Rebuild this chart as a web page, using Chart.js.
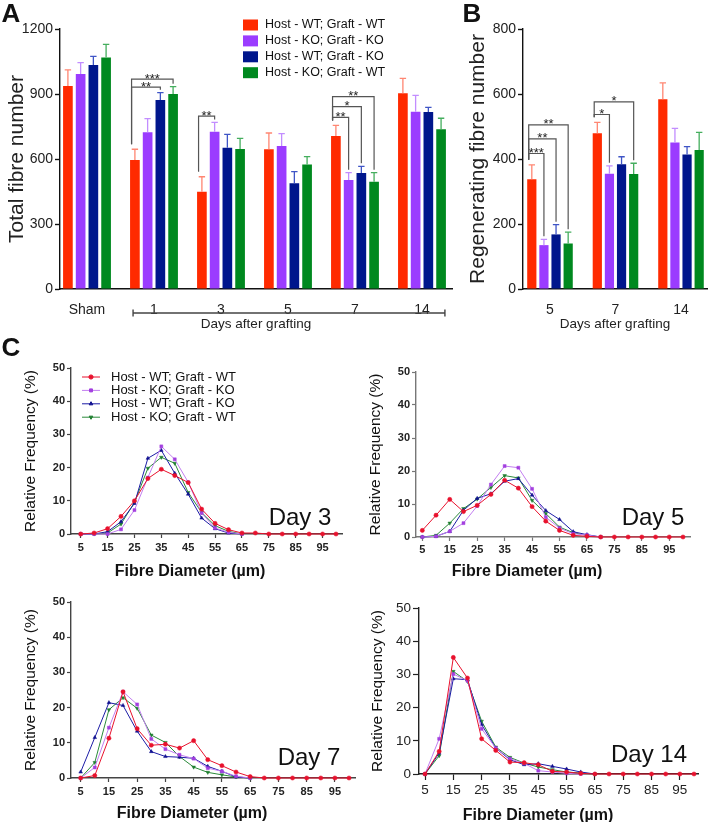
<!DOCTYPE html>
<html><head><meta charset="utf-8">
<script src="https://cdn.jsdelivr.net/npm/chart.js@4.4.1/dist/chart.umd.min.js"></script>
<style>
html,body{margin:0;padding:0;background:#fff;}
#wrap{position:relative;width:709px;height:822px;overflow:hidden;background:#fff;font-family:'Liberation Sans',Arial,Helvetica,sans-serif;}
canvas{position:absolute;}
.lbl{position:absolute;transform:translate(-50%,-50%);white-space:nowrap;color:#111;pointer-events:none;}
</style></head><body>
<div id="wrap">
<canvas id="cA" width="460" height="335" style="left:0;top:0"></canvas>
<canvas id="cB" width="247" height="335" style="left:462px;top:0"></canvas>
<canvas id="c3" width="360" height="225" style="left:0;top:355px"></canvas>
<canvas id="c5" width="349" height="225" style="left:360px;top:355px"></canvas>
<canvas id="c7" width="360" height="232" style="left:0;top:590px"></canvas>
<canvas id="c14" width="349" height="232" style="left:360px;top:590px"></canvas>
<div class="lbl" style="left:11px;top:13px;font-weight:bold;font-size:26px">A</div>
<div class="lbl" style="left:472px;top:13px;font-weight:bold;font-size:26px">B</div>
<div class="lbl" style="left:11px;top:347px;font-weight:bold;font-size:26px">C</div>
<div class="lbl" style="left:300px;top:517px;font-size:24px">Day 3</div>
<div class="lbl" style="left:653px;top:517px;font-size:24px">Day 5</div>
<div class="lbl" style="left:309px;top:757px;font-size:24px">Day 7</div>
<div class="lbl" style="left:649px;top:754px;font-size:24px">Day 14</div>
<div class="lbl" style="left:190px;top:571px;font-size:16px;font-weight:bold">Fibre Diameter (µm)</div>
<div class="lbl" style="left:527px;top:571px;font-size:16px;font-weight:bold">Fibre Diameter (µm)</div>
<div class="lbl" style="left:192px;top:813px;font-size:16px;font-weight:bold">Fibre Diameter (µm)</div>
<div class="lbl" style="left:538px;top:815px;font-size:16px;font-weight:bold">Fibre Diameter (µm)</div>
</div>
<script>
// ---------------- DATA ----------------
const groupNames = ['Host - WT; Graft - WT', 'Host - KO; Graft - KO', 'Host - WT; Graft - KO', 'Host - KO; Graft - WT'];

// Panel A: total fibre number
const daysA = ['Sham', '1', '3', '5', '7', '14'];
const totalWTWT = [937, 595, 449, 645, 706, 903];
const totalKOKO = [992, 723, 726, 660, 503, 818];
const totalWTKO = [1034, 872, 652, 488, 535, 817];
const totalKOWT = [1069, 900, 646, 575, 495, 737];
const totalErrWTWT = [74, 50, 69, 75, 49, 69];
const totalErrKOKO = [53, 63, 43, 57, 34, 76];
const totalErrWTKO = [40, 34, 62, 54, 31, 21];
const totalErrKOWT = [60, 34, 49, 36, 42, 51];
const sigA = [
  {g: 1, to: 2, level: 932, text: '**'},
  {g: 1, to: 3, level: 969, text: '***'},
  {g: 2, to: 1, level: 798, text: '**'},
  {g: 4, to: 1, level: 792, text: '**'},
  {g: 4, to: 2, level: 842, text: '*'},
  {g: 4, to: 3, level: 888, text: '**'}
];

// Panel B: regenerating fibre number
const daysB = ['5', '7', '14'];
const regenWTWT = [338, 479, 584];
const regenKOKO = [135, 355, 451];
const regenWTKO = [168, 384, 414];
const regenKOWT = [140, 354, 428];
const regenErrWTWT = [44, 34, 50];
const regenErrKOKO = [18, 24, 43];
const regenErrWTKO = [30, 23, 24];
const regenErrKOWT = [35, 33, 54];
const sigB = [
  {g: 0, to: 1, level: 417, text: '***'},
  {g: 0, to: 2, level: 462, text: '**'},
  {g: 0, to: 3, level: 505, text: '**'},
  {g: 1, to: 1, level: 537, text: '*'},
  {g: 1, to: 3, level: 576, text: '*'}
];

// Panel C: fibre diameter distributions (%)
const diameters = [5,10,15,20,25,30,35,40,45,50,55,60,65,70,75,80,85,90,95,100];
const xTickVals = [5,15,25,35,45,55,65,75,85,95];
const yTickValsC = [0,10,20,30,40,50];

const day3WTWT = [0,0.3,1.6,5.3,10,16.7,19.5,17.6,15.5,7.5,3.2,1.3,0.3,0.3,0,0,0,0,0,0];
const day3KOKO = [0,0,0,1.4,7.2,17,26.4,22.5,15.6,6.3,1.8,0.5,0];
const day3WTKO = [0,0,0.7,3.7,9.2,22.8,25.2,18.3,12,4.8,1.6,0.3,0];
const day3KOWT = [0,0,0.3,3,9.5,19.8,23.1,21.3,12.5,6.5,2.5,0.8,0];

const day5WTWT = [2,6.6,11.4,7.7,9.6,12.9,17.2,14.8,9.2,4.8,2,0.5,0.2,0,0,0,0,0,0,0];
const day5KOKO = [0,0.2,1.7,4.2,9.4,15.9,21.5,21,14.6,6,2.7,1,0.6,0];
const day5WTKO = [0,0.2,1.7,8.1,11.7,13.1,16.9,17.7,12.7,8,5.3,1.6,0.7,0];
const day5KOWT = [0,0.5,4.2,8.6,11.5,15,18.6,17.9,11.1,7.1,3,1.3,0.5,0];

const day7WTWT = [0,0.7,11.3,24.5,14,9.3,9.6,8.5,10.6,5.2,3.5,1.7,0.4,0,0,0,0,0,0,0];
const day7KOKO = [0,3,14.3,24.5,20.9,11.1,8.2,6.6,5.5,2.8,1.9,0.5,0];
const day7WTKO = [1.7,11.5,21.4,20.6,13.3,7.5,6.1,5.9,5.6,3.3,1.9,0.3,0];
const day7KOWT = [0,4.4,19.4,22.8,19.8,12.2,10.1,6.1,3.1,1.6,0.9,0.3,0];

const day14WTWT = [0,6.8,35.1,28.9,10.6,7.1,3.6,3.4,2.8,0.8,0.6,0.2,0,0,0,0,0,0,0,0];
const day14KOKO = [0,10.6,30.1,28.1,13.6,7.8,4.6,3.2,1,0.6,0.2,0];
const day14WTKO = [0,6.3,28.7,28.4,14.9,7.8,4.3,2.8,3.1,2.3,1.5,0.6,0];
const day14KOWT = [0,5.5,30.9,27.9,15.9,8.1,5,3.3,2.1,1.3,0.6,0.3,0];

// ---------------- STYLE ----------------
const FONT = "'Liberation Sans', Arial, Helvetica, sans-serif";
Chart.defaults.font.family = FONT;
Chart.defaults.color = '#222';
const barColors = ['#ff2a00', '#9b3cff', '#00168c', '#00891f'];
const errColors = ['#ff8672', '#c28dff', '#3f55c6', '#45ae5e'];
const lineColors = ['#e8112d', '#c27ef0', '#1c1ca6', '#2a8a3a'];
const markerColors = ['#e8112d', '#a33fdf', '#10108f', '#1f7f30'];
const markerStyles = ['circle', 'rect', 'triangle', 'triangle'];
const markerRot = [0, 0, 0, 180];

// ---------------- PLUGINS ----------------
function errorBars(vals, errs) {
  return { id: 'errbars', afterDatasetsDraw(chart) {
    const ctx = chart.ctx, ys = chart.scales.y;
    vals.forEach((arr, d) => {
      const meta = chart.getDatasetMeta(d);
      ctx.save(); ctx.strokeStyle = errColors[d]; ctx.lineWidth = 1.3;
      meta.data.forEach((el, i) => {
        const yt = ys.getPixelForValue(arr[i] + errs[d][i]);
        ctx.beginPath();
        ctx.moveTo(el.x, el.y); ctx.lineTo(el.x, yt);
        ctx.moveTo(el.x - 3.2, yt); ctx.lineTo(el.x + 3.2, yt);
        ctx.stroke();
      });
      ctx.restore();
    });
  }};
}
function brackets(items, vals, errs) {
  return { id: 'brackets', afterDatasetsDraw(chart) {
    const ctx = chart.ctx, ys = chart.scales.y;
    ctx.save(); ctx.strokeStyle = '#555'; ctx.lineWidth = 1.2; ctx.fillStyle = '#222';
    ctx.font = '13px ' + FONT; ctx.textAlign = 'center'; ctx.textBaseline = 'alphabetic';
    items.forEach(b => {
      const ref = chart.getDatasetMeta(0).data[b.g];
      const tgt = chart.getDatasetMeta(b.to).data[b.g];
      const lx = ref.x - ref.width / 2 + 1.5, rx = tgt.x;
      const ly = ys.getPixelForValue(b.level);
      const lb = ys.getPixelForValue(vals[0][b.g] + errs[0][b.g]) - 5;
      const rb = ys.getPixelForValue(vals[b.to][b.g] + errs[b.to][b.g]) - 3;
      ctx.beginPath(); ctx.moveTo(lx, lb); ctx.lineTo(lx, ly); ctx.lineTo(rx, ly); ctx.lineTo(rx, rb); ctx.stroke();
      ctx.fillText(b.text, (lx + rx) / 2, ly + 3.5);
    });
    ctx.restore();
  }};
}
const dayRange = { id: 'dayRange', afterDraw(chart) {
  const ctx = chart.ctx;
  const a = chart.getDatasetMeta(0).data[1], b = chart.getDatasetMeta(3).data[5];
  const x1 = a.x - a.width / 2 + 3, x2 = b.x + b.width / 2 - 1, y = chart.chartArea.bottom + 24;
  ctx.save(); ctx.strokeStyle = '#444'; ctx.lineWidth = 1.4;
  ctx.beginPath(); ctx.moveTo(x1, y); ctx.lineTo(x2, y);
  ctx.moveTo(x1, y - 3.5); ctx.lineTo(x1, y + 3.5); ctx.moveTo(x2, y - 3.5); ctx.lineTo(x2, y + 3.5);
  ctx.stroke(); ctx.restore();
}};
const squareLegend = { id: 'sqLegend', afterDraw(chart) {
  const ctx = chart.ctx;
  ctx.save(); ctx.font = '12.5px ' + FONT; ctx.textBaseline = 'middle'; ctx.textAlign = 'left';
  groupNames.forEach((n, d) => {
    const y = 25 + d * 15.9;
    ctx.fillStyle = barColors[d]; ctx.fillRect(243, y - 5.5, 15, 11);
    ctx.fillStyle = '#111'; ctx.fillText(n, 265, y);
  });
  ctx.restore();
}};
const lineLegend = { id: 'lnLegend', afterDraw(chart) {
  const ctx = chart.ctx;
  ctx.save(); ctx.font = '13px ' + FONT; ctx.textBaseline = 'middle'; ctx.textAlign = 'left';
  groupNames.forEach((n, d) => {
    const y = 22 + d * 13.4;
    ctx.strokeStyle = lineColors[d]; ctx.lineWidth = 1;
    ctx.beginPath(); ctx.moveTo(82, y); ctx.lineTo(100, y); ctx.stroke();
    ctx.fillStyle = markerColors[d]; ctx.strokeStyle = markerColors[d];
    Chart.helpers.drawPoint(ctx, {pointStyle: markerStyles[d], rotation: markerRot[d], radius: 2.1, borderWidth: 0.5}, 91, y);
    ctx.fillStyle = '#111'; ctx.fillText(n, 111, y);
  });
  ctx.restore();
}};

// ---------------- BUILDERS ----------------
function barChart(id, cats, vals, errs, sig, o, extra) {
  return new Chart(document.getElementById(id), {
    type: 'bar',
    data: { datasets: groupNames.map((name, d) => ({
      label: name,
      data: cats.map((c, i) => ({x: i, y: vals[d][i]})),
      backgroundColor: barColors[d], borderWidth: 0,
      categoryPercentage: o.catPct, barPercentage: o.barPct
    }))},
    options: {
      responsive: false, animation: false, events: [],
      layout: {padding: {top: 29, right: o.padRight, left: 0, bottom: 0}},
      plugins: {legend: {display: false}, tooltip: {enabled: false}},
      scales: {
        x: {type: 'linear', min: o.xmin, max: o.xmax, offset: false,
          afterBuildTicks: s => { s.ticks = cats.map((c, i) => ({value: i})); },
          afterFit: s => { s.height = 46; },
          grid: {display: false},
          border: {display: true, color: '#111', width: 1.4},
          ticks: {callback: v => cats[v], font: {size: 14}, color: '#222', padding: 5, autoSkip: false, maxRotation: 0},
          title: {display: true, text: 'Days after grafting', font: {size: 13.5}, color: '#222', padding: {top: 0, bottom: 2.6}}
        },
        y: {min: 0, max: o.ymax,
          ticks: {stepSize: o.step, font: {size: 14}, color: '#222', padding: 2, callback: v => String(v)},
          afterFit: s => { s.width = o.yw; },
          grid: {display: true, drawOnChartArea: false, drawTicks: true, tickLength: 5, tickColor: '#111', tickWidth: 1.4},
          border: {display: true, color: '#111', width: 1.4},
          title: {display: true, text: o.ytitle, font: {size: 21}, color: '#222', padding: {top: o.ytPad, bottom: 0}}
        }
      }
    },
    plugins: [errorBars(vals, errs), brackets(sig, vals, errs)].concat(extra)
  });
}

function lineChart(id, series, o) {
  return new Chart(document.getElementById(id), {
    type: 'line',
    data: { datasets: series.map((vals, d) => ({
      label: groupNames[d],
      data: vals.map((v, i) => ({x: diameters[i], y: v})),
      borderColor: lineColors[d], backgroundColor: markerColors[d], pointBorderColor: markerColors[d],
      borderWidth: 1, pointStyle: markerStyles[d], pointRotation: markerRot[d],
      pointRadius: 2.1, pointBorderWidth: 0.5, tension: 0, clip: false, fill: false
    }))},
    options: {
      responsive: false, animation: false, events: [],
      layout: {padding: {top: o.padTop, right: o.padRight, left: 0, bottom: 0}},
      plugins: {legend: {display: false}, tooltip: {enabled: false}},
      scales: {
        x: {type: 'linear', min: o.xmin, max: o.xmax,
          afterBuildTicks: s => { s.ticks = xTickVals.map(v => ({value: v})); },
          afterFit: s => { s.height = o.xh; },
          grid: {display: true, drawOnChartArea: false, drawTicks: true, tickLength: o.tl, tickColor: o.axisColor, tickWidth: 1.2},
          border: {display: true, color: o.axisColor, width: 1.4},
          ticks: {font: {size: o.tickSize, weight: o.tickWeight}, color: '#222', padding: o.xpad, autoSkip: false, maxRotation: 0}
        },
        y: {min: 0, max: 50,
          afterBuildTicks: s => { s.ticks = yTickValsC.map(v => ({value: v})); },
          afterFit: s => { s.width = o.yw; },
          grid: {display: true, drawOnChartArea: false, drawTicks: true, tickLength: o.tl, tickColor: o.axisColor, tickWidth: 1.2},
          border: {display: true, color: o.axisColor, width: 1.4},
          ticks: {font: {size: o.tickSize, weight: o.tickWeight}, color: '#222', padding: 2},
          title: {display: true, text: 'Relative Frequency (%)', font: {size: 15.5}, color: '#111', padding: {top: o.ytPad, bottom: 0}}
        }
      }
    },
    plugins: o.legend ? [lineLegend] : []
  });
}

// ---------------- CHARTS ----------------
barChart('cA', daysA,
  [totalWTWT, totalKOKO, totalWTKO, totalKOWT],
  [totalErrWTWT, totalErrKOKO, totalErrWTKO, totalErrKOWT], sigA,
  {xmin: -0.403, xmax: 5.448, ymax: 1200, step: 300, yw: 60, padRight: 8, ytPad: 4.4,
   catPct: 0.76, barPct: 0.76, ytitle: 'Total fibre number'},
  [dayRange, squareLegend]);

barChart('cB', daysB,
  [regenWTWT, regenKOKO, regenWTKO, regenKOWT],
  [regenErrWTWT, regenErrKOKO, regenErrWTKO, regenErrKOWT], sigB,
  {xmin: -0.412, xmax: 2.397, ymax: 800, step: 200, yw: 61, padRight: 2, ytPad: 3.4,
   catPct: 0.74, barPct: 0.76, ytitle: 'Regenerating fibre number'},
  []);

lineChart('c3', [day3WTWT, day3KOKO, day3WTKO, day3KOWT],
  {xmin: 1.39, xmax: 102.23, padTop: 13, padRight: 18, yw: 71, xh: 46, tl: 4, xpad: 3,
   tickSize: 11, tickWeight: 'bold', axisColor: '#444', ytPad: 21.7, legend: true});
lineChart('c5', [day5WTWT, day5KOKO, day5WTKO, day5KOWT],
  {xmin: 2.70, xmax: 102.55, padTop: 17, padRight: 19, yw: 56, xh: 43, tl: 4, xpad: 2,
   tickSize: 11, tickWeight: 'bold', axisColor: '#777', ytPad: 6.7, legend: false});
lineChart('c7', [day7WTWT, day7KOKO, day7WTKO, day7KOWT],
  {xmin: 1.58, xmax: 102.29, padTop: 12, padRight: 3, yw: 71, xh: 44, tl: 4, xpad: 3.5,
   tickSize: 11, tickWeight: 'bold', axisColor: '#444', ytPad: 21.7, legend: false});
lineChart('c14', [day14WTWT, day14KOKO, day14WTKO, day14KOWT],
  {xmin: 2.88, xmax: 101.41, padTop: 18, padRight: 11, yw: 59, xh: 48, tl: 6, xpad: 2.5,
   tickSize: 13.5, tickWeight: 'normal', axisColor: '#222', ytPad: 8.7, legend: false});
</script>
</body></html>
